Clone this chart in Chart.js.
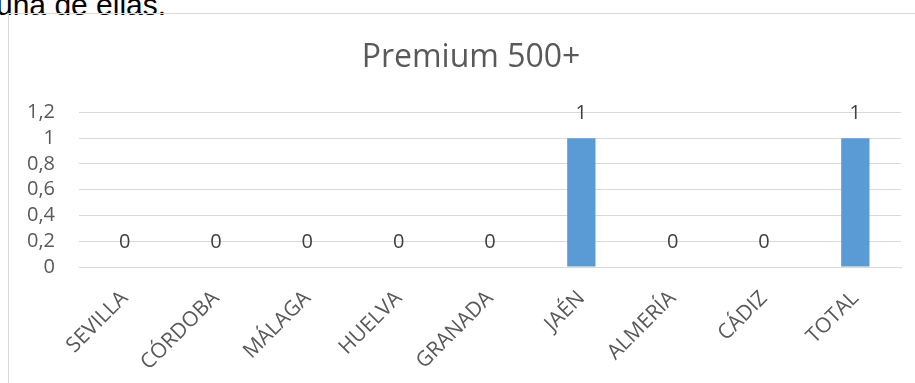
<!DOCTYPE html>
<html lang="es">
<head>
<meta charset="utf-8">
<title>Premium 500+</title>
<script src="https://cdn.jsdelivr.net/npm/chart.js@4.4.1/dist/chart.umd.min.js"></script>
<style>
  html, body { margin: 0; padding: 0; width: 915px; height: 383px; overflow: hidden; background: #fff; }
  #prose {
    position: absolute; left: -4px; top: -10px;
    font: 30px/30px "Liberation Sans", Arial, sans-serif; color: #000; white-space: nowrap;
  }
  #frame {
    position: absolute; left: 8px; top: 13px; width: 1000px; height: 1000px;
    border: 1px solid #d9d9d9; box-sizing: border-box;
  }
  #wrap { position: absolute; left: 8px; top: 0; width: 926px; height: 383px; }
</style>
</head>
<body>
<div id="prose">una de ellas.</div>
<div id="frame"></div>
<div id="wrap"><canvas id="chart" width="926" height="383"></canvas></div>
<script>
const categories = ['SEVILLA', 'CÓRDOBA', 'MÁLAGA', 'HUELVA', 'GRANADA', 'JAÉN', 'ALMERÍA', 'CÁDIZ', 'TOTAL'];
const premiumValues = [0, 0, 0, 0, 0, 1, 0, 0, 1];
const yTicks = [0, 0.2, 0.4, 0.6, 0.8, 1, 1.2];
const chartTitle = 'Premium 500+';

const FONT = '"Open Sans", "Liberation Sans", sans-serif';
const fmt = v => String(Math.round(v * 10) / 10).replace('.', ',');

// Value labels above each bar
const valueLabels = {
  id: 'valueLabels',
  afterDatasetsDraw(chart) {
    const ctx = chart.ctx;
    const meta = chart.getDatasetMeta(0);
    ctx.save();
    ctx.font = '20px ' + FONT;
    ctx.fillStyle = '#404040';
    ctx.textAlign = 'center';
    ctx.textBaseline = 'middle';
    meta.data.forEach((bar, i) => {
      ctx.fillText(fmt(premiumValues[i]), bar.x, bar.y - 25);
    });
    ctx.restore();
  }
};

new Chart(document.getElementById('chart'), {
  type: 'bar',
  data: {
    labels: categories,
    datasets: [{
      data: premiumValues,
      backgroundColor: '#5b9bd5',
      borderWidth: 0,
      barPercentage: 0.31,
      categoryPercentage: 1
    }]
  },
  options: {
    responsive: false,
    animation: false,
    devicePixelRatio: 1,
    layout: { padding: 0 },
    plugins: {
      legend: { display: false },
      tooltip: { enabled: false },
      title: {
        display: true,
        text: chartTitle,
        color: '#595959',
        font: { family: FONT, size: 32, weight: 'normal', lineHeight: 1.2 },
        padding: { top: 39, bottom: 35 }
      }
    },
    scales: {
      x: {
        grid: { display: false, drawTicks: false },
        border: { display: true, color: '#d9d9d9', width: 1 },
        ticks: {
          color: '#595959',
          font: { family: FONT, size: 21 },
          minRotation: 45, maxRotation: 45,
          autoSkip: false,
          padding: 19
        },
        afterFit(scale) { scale.height = 116; }
      },
      y: {
        min: 0, max: 1.2,
        afterBuildTicks(scale) { scale.ticks = yTicks.map(v => ({ value: v })); },
        grid: { color: '#d9d9d9', lineWidth: 1, drawTicks: false },
        border: { display: false },
        ticks: {
          color: '#595959',
          font: { family: FONT, size: 20 },
          padding: 24,
          autoSkip: false,
          callback: v => fmt(v)
        },
        afterFit(scale) { scale.width = 71; }
      },
      // empty margin on the right of the plot
      gutter: {
        type: 'linear',
        position: 'right',
        display: true,
        grid: { display: false, drawTicks: false },
        border: { display: false },
        ticks: { display: false },
        afterFit(scale) { scale.width = 33; }
      }
    }
  },
  plugins: [valueLabels]
});
</script>
</body>
</html>
